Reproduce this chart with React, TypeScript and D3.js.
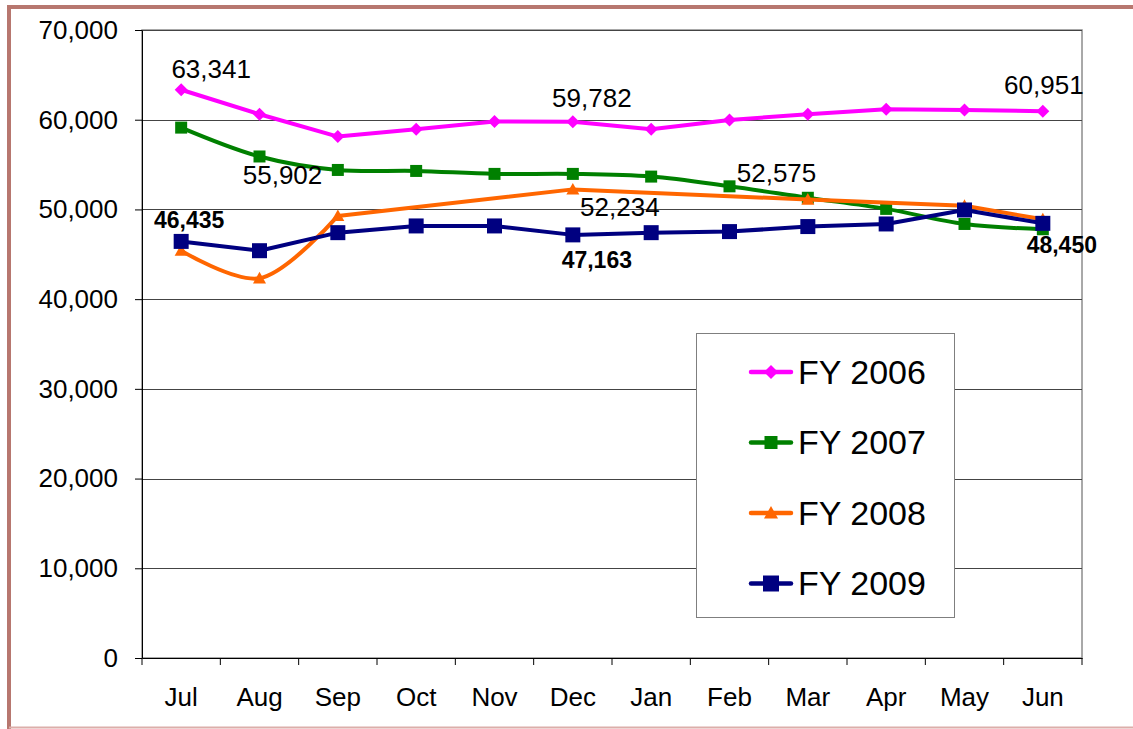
import React, { useEffect, useRef } from 'react';
import * as d3 from 'd3';

// chart data
const months = ['Jul', 'Aug', 'Sep', 'Oct', 'Nov', 'Dec', 'Jan', 'Feb', 'Mar', 'Apr', 'May', 'Jun'];
const fy2006 = [63341, 60610, 58120, 58950, 59790, 59782, 58940, 59980, 60610, 61170, 61090, 60951];
const fy2007 = [59120, 55902, 54400, 54290, 53960, 53960, 53660, 52575, 51300, 50060, 48380, 47790];
const fy2008 = [45410, 42330, 49280, null, null, 52234, null, null, 51100, null, 50400, 48900];
const fy2009 = [46435, 45400, 47410, 48160, 48160, 47163, 47410, 47530, 48090, 48380, 49940, 48450];
const yTicks = [0, 10000, 20000, 30000, 40000, 50000, 60000, 70000];

const series = [
  { name: 'FY 2006', values: fy2006, color: '#FF00FF', marker: 'diamond', size: 13, smooth: false },
  { name: 'FY 2007', values: fy2007, color: '#008000', marker: 'square', size: 12, smooth: true },
  { name: 'FY 2008', values: fy2008, color: '#FF6600', marker: 'triangle', size: 13, smooth: true },
  { name: 'FY 2009', values: fy2009, color: '#000080', marker: 'square', size: 15, smooth: false },
];

// which points get a value label, and where the label sits relative to the point
const pointLabels = [
  { s: 0, i: 0, dx: 30, dy: -12, bold: false },
  { s: 0, i: 5, dx: 19, dy: -15, bold: false },
  { s: 0, i: 11, dx: 1, dy: -17, bold: false },
  { s: 1, i: 1, dx: 23, dy: 28, bold: false },
  { s: 1, i: 7, dx: 47, dy: -4, bold: false },
  { s: 2, i: 5, dx: 47, dy: 27, bold: false },
  { s: 3, i: 0, dx: 8, dy: -13, bold: true },
  { s: 3, i: 5, dx: 24, dy: 33, bold: true },
  { s: 3, i: 11, dx: 19, dy: 30, bold: true },
];

const FONT = 'Arial, "Liberation Sans", sans-serif';

type Pt = { v: number; i: number };

const markerPath = (type: string, size: number) => {
  const h = size / 2;
  if (type === 'diamond') return `M0,${-h}L${h},0L0,${h}L${-h},0Z`;
  if (type === 'triangle') return `M0,${-h}L${h},${h * 0.8}L${-h},${h * 0.8}Z`;
  return `M${-h},${-h}H${h}V${h}H${-h}Z`;
};

const drawChart = (el: SVGSVGElement) => {
  const width = 1133,
    height = 729;
  const plot = { left: 142, right: 1082, top: 30, bottom: 658 };

  const svg = d3.select(el);
  svg.selectAll('*').remove();
  svg.attr('width', width).attr('height', height);

  svg.append('rect').attr('width', width).attr('height', height).attr('fill', '#fff');

  // outer frame
  svg.append('line').attr('x1', 7).attr('x2', width).attr('y1', 7).attr('y2', 7)
    .attr('stroke', '#b7776f').attr('stroke-width', 4);
  svg.append('line').attr('x1', 9).attr('x2', 9).attr('y1', 5).attr('y2', 729)
    .attr('stroke', '#b7776f').attr('stroke-width', 4);
  svg.append('line').attr('x1', 9).attr('x2', width).attr('y1', 727.5).attr('y2', 727.5)
    .attr('stroke', '#dcaeaa').attr('stroke-width', 2);

  const x = d3.scaleBand<string>().domain(months).range([plot.left, plot.right]);
  const y = d3.scaleLinear().domain([0, 70000]).range([plot.bottom, plot.top]);
  const cx = (i: number) => (x(months[i]) as number) + x.bandwidth() / 2;

  // plot area border (right side shows gray)
  svg.append('rect')
    .attr('x', plot.left).attr('y', plot.top)
    .attr('width', plot.right - plot.left).attr('height', plot.bottom - plot.top)
    .attr('fill', 'none').attr('stroke', '#8c8c8c').attr('stroke-width', 1.5);

  // gridlines
  svg.append('g')
    .selectAll('line')
    .data(yTicks.filter(d => d > 0))
    .enter()
    .append('line')
    .attr('x1', plot.left).attr('x2', plot.right)
    .attr('y1', d => Math.round(y(d)) + 0.5).attr('y2', d => Math.round(y(d)) + 0.5)
    .attr('stroke', '#444').attr('stroke-width', 1);

  // y axis
  const yAxis = svg.append('g')
    .attr('transform', `translate(${plot.left},0)`)
    .call(d3.axisLeft(y).tickValues(yTicks).tickSize(7).tickSizeOuter(0).tickPadding(17)
      .tickFormat(d => d3.format(',')(d as number)));
  yAxis.selectAll('path').attr('stroke', '#000');
  yAxis.selectAll('line').attr('stroke', '#000');
  yAxis.selectAll('text').attr('font-family', FONT).attr('font-size', 26).attr('fill', '#000');

  // x axis: labels centered in each band, ticks at band edges
  const xAxis = svg.append('g')
    .attr('transform', `translate(0,${plot.bottom})`)
    .call(d3.axisBottom(x).tickSize(0).tickSizeOuter(0).tickPadding(30));
  xAxis.select('path').attr('stroke', '#000');
  xAxis.selectAll('text').attr('font-family', FONT).attr('font-size', 26).attr('fill', '#000');
  xAxis.selectAll('line.edge')
    .data(months.map(m => x(m) as number).concat([plot.right]))
    .enter()
    .append('line')
    .attr('class', 'edge')
    .attr('x1', d => d).attr('x2', d => d)
    .attr('y1', 0).attr('y2', 7)
    .attr('stroke', '#000');

  // series lines and markers
  series.forEach(s => {
    const pts = s.values
      .map((v, i) => ({ v, i }))
      .filter(p => p.v !== null) as Pt[];

    const smoothLine = d3.line<Pt>()
      .x(p => cx(p.i))
      .y(p => y(p.v))
      .curve(s.smooth ? d3.curveCatmullRom.alpha(0.5) : d3.curveLinear);
    const straightLine = d3.line<Pt>().x(p => cx(p.i)).y(p => y(p.v));

    // consecutive months are smoothed, gaps over empty months are bridged straight
    const runs: Pt[][] = [];
    const bridges: Pt[][] = [];
    pts.forEach((p, k) => {
      if (k > 0 && p.i === pts[k - 1].i + 1) runs[runs.length - 1].push(p);
      else {
        if (k > 0) bridges.push([pts[k - 1], p]);
        runs.push([p]);
      }
    });

    const g = svg.append('g');
    const segs = runs.filter(r => r.length > 1).map(r => smoothLine(r))
      .concat(bridges.map(b => straightLine(b)));
    g.selectAll('path.seg')
      .data(segs)
      .enter()
      .append('path')
      .attr('class', 'seg')
      .attr('d', d => d as string)
      .attr('fill', 'none')
      .attr('stroke', s.color)
      .attr('stroke-width', 4)
      .attr('stroke-linejoin', 'round')
      .attr('stroke-linecap', 'round');

    g.selectAll('path.marker')
      .data(pts)
      .enter()
      .append('path')
      .attr('class', 'marker')
      .attr('transform', p => `translate(${cx(p.i)},${y(p.v)})`)
      .attr('d', markerPath(s.marker, s.size))
      .attr('fill', s.color);
  });

  // value labels
  svg.append('g')
    .selectAll('text')
    .data(pointLabels)
    .enter()
    .append('text')
    .attr('x', d => cx(d.i) + d.dx)
    .attr('y', d => y(series[d.s].values[d.i] as number) + d.dy)
    .attr('text-anchor', 'middle')
    .attr('font-family', FONT)
    .attr('font-size', d => (d.bold ? 23 : 26))
    .attr('font-weight', d => (d.bold ? 'bold' : 'normal'))
    .attr('fill', '#000')
    .text(d => d3.format(',')(series[d.s].values[d.i] as number));

  // legend
  const legend = svg.append('g').attr('transform', 'translate(696,333)');
  legend.append('rect')
    .attr('x', 0.5).attr('y', 0.5)
    .attr('width', 258).attr('height', 284)
    .attr('fill', '#fff').attr('stroke', '#7f7f7f').attr('stroke-width', 1);

  const item = legend.selectAll('g.item')
    .data(series)
    .enter()
    .append('g')
    .attr('class', 'item')
    .attr('transform', (d, i) => `translate(0,${39 + i * 70.5})`);

  item.append('line')
    .attr('x1', 55).attr('x2', 95)
    .attr('stroke', d => d.color).attr('stroke-width', 4.5).attr('stroke-linecap', 'round');
  item.append('path')
    .attr('transform', 'translate(75,0)')
    .attr('d', d => markerPath(d.marker, d.size + 1))
    .attr('fill', d => d.color);
  item.append('text')
    .attr('x', 102)
    .attr('dy', '0.35em')
    .attr('font-family', FONT)
    .attr('font-size', 34)
    .attr('fill', '#000')
    .text(d => d.name);
};

const App = () => {
  const ref = useRef<SVGSVGElement>(null);

  useEffect(() => {
    if (ref.current) drawChart(ref.current);
  }, []);

  return <svg ref={ref} style={{ position: 'absolute', left: 0, top: 0, display: 'block' }} />;
};

export default App;
